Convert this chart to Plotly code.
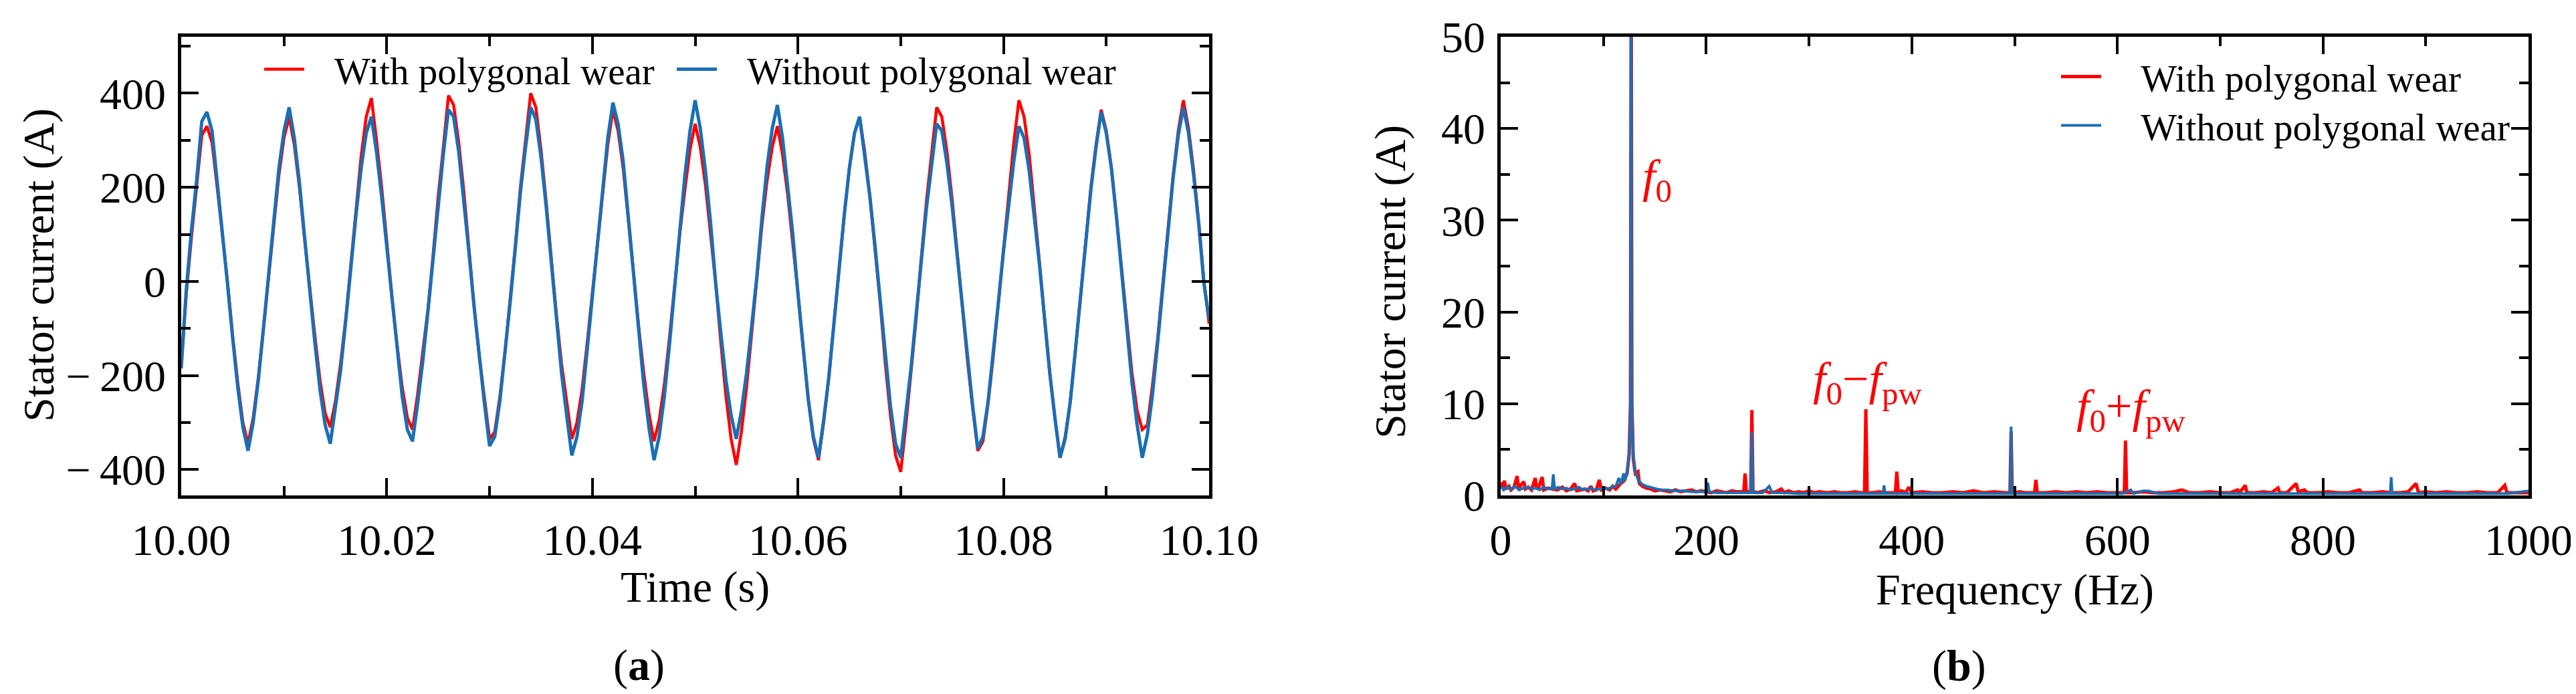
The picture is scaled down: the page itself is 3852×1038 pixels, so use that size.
import plotly.graph_objects as go

# ---------------- data: (a) time-domain stator current ----------------
t_start = 10.0
t_step = 0.0005  # sampling interval of the read-off points (s)

current_with = [
    -175, -25, 95, 200, 310, 330, 295, 200, 105, 0,
    -115, -215, -300, -345, -290, -205, -100,
    10, 125, 225, 305, 350, 290, 200, 90,
    -20, -115, -210, -280, -310, -255, -175, -80,
    35, 155, 265, 350, 390, 300, 200, 85,
    -35, -135, -225, -290, -315, -240, -155, -60,
    55, 180, 285, 395, 375, 295, 190, 65,
    -55, -160, -250, -335, -320, -245, -150, -45,
    75, 200, 305, 400, 370, 280, 170, 45,
    -70, -175, -260, -335, -300, -230, -130, -25,
    90, 200, 290, 365, 320, 240, 135, 20,
    -95, -195, -280, -340, -295, -220, -120, -5,
    100, 195, 280, 335, 285, 205, 105, -5,
    -130, -245, -335, -390, -320, -225, -110,
    10, 120, 215, 285, 330, 270, 185, 85,
    -25, -140, -250, -335, -380, -300, -205, -90,
    30, 140, 240, 315, 350, 275, 180, 75,
    -45, -175, -285, -370, -405, -305, -200, -80,
    50, 170, 270, 370, 350, 275, 175, 60,
    -60, -170, -270, -360, -340, -260, -160, -45,
    75, 195, 295, 385, 350, 270, 160, 40,
    -80, -195, -290, -375, -330, -255, -145, -30,
    90, 200, 290, 365, 320, 240, 135, 20,
    -90, -195, -275, -315, -305, -220, -120, -5,
    115, 225, 320, 385, 325, 235, 125, 0,
    -90,
]

current_without = [
    -185, -15, 110, 215, 340, 360, 320, 215, 110, -5,
    -120, -225, -310, -360, -300, -210, -100,
    10, 135, 240, 320, 370, 305, 210, 95,
    -20, -130, -230, -305, -345, -270, -190, -85,
    30, 140, 240, 315, 350, 275, 180, 75,
    -40, -150, -245, -315, -340, -260, -170, -65,
    50, 170, 270, 365, 350, 275, 175, 60,
    -55, -165, -260, -350, -330, -255, -155, -45,
    70, 190, 285, 370, 345, 265, 160, 40,
    -80, -195, -285, -370, -330, -255, -145, -30,
    90, 205, 305, 380, 335, 255, 140, 25,
    -105, -220, -310, -380, -330, -245, -135, -10,
    115, 225, 320, 385, 325, 235, 125, -5,
    -110, -210, -285, -335, -275, -195, -95,
    10, 135, 245, 325, 375, 305, 210, 100,
    -25, -140, -250, -330, -375, -295, -205, -90,
    30, 140, 240, 315, 350, 270, 180, 75,
    -40, -160, -265, -345, -375, -280, -185, -70,
    50, 155, 245, 335, 320, 250, 160, 55,
    -55, -165, -265, -355, -330, -255, -155, -45,
    65, 165, 255, 330, 305, 235, 140, 35,
    -80, -195, -290, -375, -335, -255, -145, -30,
    85, 195, 285, 360, 315, 240, 135, 20,
    -100, -215, -305, -375, -325, -240, -130, -10,
    110, 220, 310, 370, 315, 225, 120, -5,
    -80,
]

time_ticks = [10.00, 10.02, 10.04, 10.06, 10.08, 10.10]
time_ticktext = ["10.00", "10.02", "10.04", "10.06", "10.08", "10.10"]
current_ticks = [-400, -200, 0, 200, 400]
current_ticktext = ["\u2212\u2009400", "\u2212\u2009200", "0", "200", "400"]

# ---------------- data: (b) spectrum ----------------
freq_with = [
    0, 2, 3.8, 5, 8, 10, 13, 16, 17.5, 20, 22.5, 24, 27, 30, 33.7, 35, 37, 40.4, 42, 46,
    50, 55, 60, 64, 68, 72, 74, 78, 82, 85, 87.8, 90, 93, 96, 98, 102, 106, 109, 112, 116,
    120, 123, 125, 126.3, 127, 127.7, 129, 131, 133.6, 135, 138, 142, 146, 150, 155, 160,
    165, 170, 175, 180, 186, 190, 195, 200, 205, 210, 215, 220, 225, 230, 236.5, 237.8, 239,
    243.3, 244.4, 245.5, 250, 256, 262, 268, 273, 276, 280, 285, 290, 295, 300, 305, 310,
    318, 325, 330, 338, 345, 350, 354, 355.3, 356.6, 362, 368, 375, 380, 384, 385.4, 386.8,
    390, 394, 397, 400, 410, 420, 430, 440, 450, 460, 470, 480, 490, 495.5, 496.6, 497.7,
    505, 510, 519.5, 520.7, 522, 530, 540, 550, 560, 570, 580, 590, 600, 606.8, 607.9, 609,
    615, 625, 635, 645, 655, 662.6, 670, 680, 690, 700, 710, 717, 719, 724.4, 726, 735, 742,
    750, 756.3, 758, 765, 773.9, 776, 782, 785, 795, 805, 815, 825, 835.7, 838, 848, 858,
    866, 875, 883, 890.5, 893, 900, 910, 920, 930, 940, 950, 960, 970, 976.9, 979, 990, 1000,
]
amp_with = [
    1.4, 0.9, 1.6, 0.7, 1.0, 0.6, 0.9, 2.1, 0.8, 1.1, 1.5, 0.7, 0.9, 0.6, 1.9, 0.7, 0.9, 2.0, 0.6, 0.8,
    0.7, 0.6, 0.9, 0.5, 0.7, 1.3, 0.5, 0.6, 0.7, 0.5, 1.0, 0.5, 0.6, 1.7, 0.6, 0.8, 0.6, 1.0, 0.7, 1.2,
    1.6, 2.4, 4.5, 10.0, 60.0, 10.0, 4.0, 2.4, 2.6, 1.3, 1.0, 0.8, 0.7, 0.5, 0.6, 0.5,
    0.4, 0.6, 0.4, 0.5, 0.6, 0.4, 0.5, 0.4, 0.3, 0.5, 0.4, 0.3, 0.5, 0.4, 0.4, 2.4, 0.4,
    0.4, 9.3, 0.4, 0.3, 0.5, 0.3, 0.4, 0.7, 0.3, 0.5, 0.3, 0.4, 0.3, 0.5, 0.3, 0.4,
    0.3, 0.4, 0.3, 0.3, 0.4, 0.3, 0.3, 9.4, 0.3, 0.3, 0.4, 0.3, 0.3, 0.3, 2.6, 0.3,
    0.5, 0.3, 0.9, 0.3, 0.4, 0.3, 0.3, 0.4, 0.3, 0.5, 0.3, 0.4, 0.3, 0.3, 7.0, 0.3,
    0.4, 0.3, 0.3, 1.7, 0.3, 0.3, 0.4, 0.3, 0.4, 0.3, 0.4, 0.3, 0.3, 0.3, 6.0, 0.3,
    0.3, 0.4, 0.3, 0.3, 0.4, 0.6, 0.3, 0.3, 0.4, 0.3, 0.3, 0.6, 0.3, 1.1, 0.3, 0.3, 0.4,
    0.3, 0.8, 0.3, 0.3, 1.3, 0.4, 0.6, 0.3, 0.3, 0.4, 0.3, 0.3, 0.6, 0.3, 0.3, 0.4,
    0.3, 0.3, 0.4, 1.3, 0.3, 0.4, 0.3, 0.4, 0.3, 0.3, 0.4, 0.3, 0.3, 1.1, 0.3, 0.3, 0.3,
]

freq_without = [
    0, 3, 6, 10, 14, 18, 22, 26, 30, 34, 38, 42, 46, 50, 51.2, 52.5, 56, 60, 64, 68,
    72, 76, 80, 84, 88, 92, 96, 100, 104, 108, 112, 115, 117, 119.6, 121, 123, 125, 126,
    126.5, 127, 127.5, 128, 129, 131, 134, 138, 142, 148, 155, 162, 170, 178, 186, 194,
    200, 201.5, 203, 210, 220, 230, 240, 243.5, 244.4, 245.3, 255, 261.3, 264, 275, 290,
    310, 330, 350, 365, 372, 373, 374, 390, 420, 450, 480, 495.7, 496.6, 497.5, 520, 550,
    580, 605, 613, 616, 625, 630, 640, 680, 720, 760, 800, 840, 865.4, 866.4, 867.4, 900,
    940, 980, 1000,
]
amp_without = [
    1.0, 0.6, 0.9, 0.7, 1.0, 0.6, 0.8, 0.9, 0.7, 0.8, 0.6, 0.9, 0.7, 0.8, 2.3, 0.7, 0.9, 0.7, 0.8, 0.6,
    0.7, 0.9, 0.6, 0.7, 0.8, 0.6, 0.7, 0.8, 0.7, 0.9, 1.0, 1.9, 1.2, 2.4, 1.6, 2.6, 4.2, 7.0,
    12.0, 60.0, 12.0, 7.0, 4.5, 2.6, 1.6, 1.2, 1.0, 0.8, 0.6, 0.6, 0.5, 0.5, 0.4, 0.4,
    0.4, 1.4, 0.4, 0.3, 0.3, 0.3, 0.3, 0.3, 6.9, 0.3, 0.3, 1.0, 0.3, 0.3, 0.2,
    0.2, 0.2, 0.2, 0.2, 0.2, 1.1, 0.2, 0.2, 0.2, 0.2, 0.2, 0.2, 7.5, 0.2, 0.2, 0.2,
    0.2, 0.2, 0.6, 0.2, 0.5, 0.5, 0.2, 0.2, 0.2, 0.2, 0.2, 0.2, 0.2, 2.0, 0.2, 0.2,
    0.2, 0.2, 0.5,
]

freq_ticks = [0, 200, 400, 600, 800, 1000]
amp_ticks = [0, 10, 20, 30, 40, 50]

series_names = ["With polygonal wear", "Without polygonal wear"]

# ---------------- styling ----------------
RED = "#FF0000"
BLUE = "#1A6FB5"
FONT = "Liberation Serif"
W, H = 3852, 1038
GAP_L = "\u00a0\u00a0\u2009"          # spacing between legend line and label (left panel)
GAP_R = "\u00a0\u00a0\u00a0\u2009"    # spacing between legend line and label (right panel)

time_vals = [t_start + i * t_step for i in range(len(current_with))]

fig = go.Figure()
fig.add_trace(go.Scatter(x=time_vals, y=current_with, mode="lines", name=GAP_L + series_names[0],
                         line=dict(color=RED, width=4.5), xaxis="x", yaxis="y", legend="legend"))
fig.add_trace(go.Scatter(x=time_vals, y=current_without, mode="lines", name=GAP_L + series_names[1],
                         line=dict(color=BLUE, width=5), xaxis="x", yaxis="y", legend="legend2"))
fig.add_trace(go.Scatter(x=freq_with, y=amp_with, mode="lines", name=GAP_R + series_names[0],
                         line=dict(color=RED, width=5), xaxis="x2", yaxis="y2", legend="legend3"))
fig.add_trace(go.Scatter(x=freq_without, y=amp_without, mode="lines", name=GAP_R + series_names[1],
                         line=dict(color=BLUE, width=4), xaxis="x2", yaxis="y2", legend="legend4"))


def minor_style(dtick, tick0):
    return dict(ticks="inside", ticklen=14, tickwidth=4, tickcolor="black",
                dtick=dtick, tick0=tick0, showgrid=False)


def axis_style(**kw):
    d = dict(showline=True, linecolor="black", linewidth=4.5, mirror="ticks",
             ticks="inside", ticklen=26, tickwidth=4, tickcolor="black",
             showgrid=False, zeroline=False, automargin=False, ticklabelstandoff=5,
             tickfont=dict(family=FONT, size=66, color="black"))
    d.update(kw)
    return d


def legend_at(x_px, y_px):
    return dict(orientation="v", x=x_px / W, y=1 - y_px / H, xanchor="left", yanchor="middle",
                bgcolor="rgba(0,0,0,0)", borderwidth=0,
                font=dict(family=FONT, size=57, color="black"), itemwidth=60)


ydom = [1 - 733 / H, 1 - 47 / H]
fig.update_layout(
    width=W, height=H, autosize=False,
    margin=dict(l=0, r=0, t=0, b=0, pad=0, autoexpand=False),
    paper_bgcolor="white", plot_bgcolor="white",
    font=dict(family=FONT, color="black"),
    xaxis=axis_style(domain=[263 / W, 1800 / W], range=[10.0, 10.1], anchor="y",
                     tickmode="array", tickvals=time_ticks, ticktext=time_ticktext,
                     minor=minor_style(0.01, 10.0)),
    yaxis=axis_style(domain=ydom, range=[-455, 520], anchor="x",
                     tickmode="array", tickvals=current_ticks, ticktext=current_ticktext,
                     minor=minor_style(100, 0)),
    xaxis2=axis_style(domain=[2236 / W, 3773 / W], range=[0, 1000], anchor="y2",
                      tickmode="array", tickvals=freq_ticks,
                      minor=minor_style(100, 0)),
    yaxis2=axis_style(domain=ydom, range=[0, 50], anchor="x2",
                      tickmode="array", tickvals=amp_ticks,
                      minor=minor_style(5, 0)),
    legend=legend_at(382, 96),
    legend2=legend_at(999, 96),
    legend3=legend_at(3069, 107),
    legend4=legend_at(3069, 180),
    showlegend=True,
)

ann_font = dict(family=FONT, size=66, color="black")
annotations = [
    dict(text="Stator current (A)", x=50 / W, y=1 - 389 / H, textangle=-90),
    dict(text="Stator current (A)", x=2071 / W, y=1 - 414 / H, textangle=-90),
    dict(text="Time (s)", x=1031 / W, y=1 - 870 / H),
    dict(text="Frequency (Hz)", x=3005 / W, y=1 - 874 / H),
    dict(text="(<b>a</b>)", x=947 / W, y=1 - 987 / H),
    dict(text="(<b>b</b>)", x=2921 / W, y=1 - 988 / H),
]
for a in annotations:
    fig.add_annotation(xref="paper", yref="paper", showarrow=False, xanchor="center",
                       yanchor="middle", font=ann_font, **a)

red_font = dict(family=FONT, size=70, color=RED)
fig.add_annotation(xref="x2", yref="y2", x=152, y=34.4, text="<i>f</i><sub>0</sub>",
                   showarrow=False, font=red_font)
fig.add_annotation(xref="x2", yref="y2", x=357, y=12.3,
                   text="<i>f</i><sub>0</sub>\u2212<i>f</i><sub>pw</sub>",
                   showarrow=False, font=red_font)
fig.add_annotation(xref="x2", yref="y2", x=613, y=9.3,
                   text="<i>f</i><sub>0</sub>+<i>f</i><sub>pw</sub>",
                   showarrow=False, font=red_font)

fig.write_html("out.html")
